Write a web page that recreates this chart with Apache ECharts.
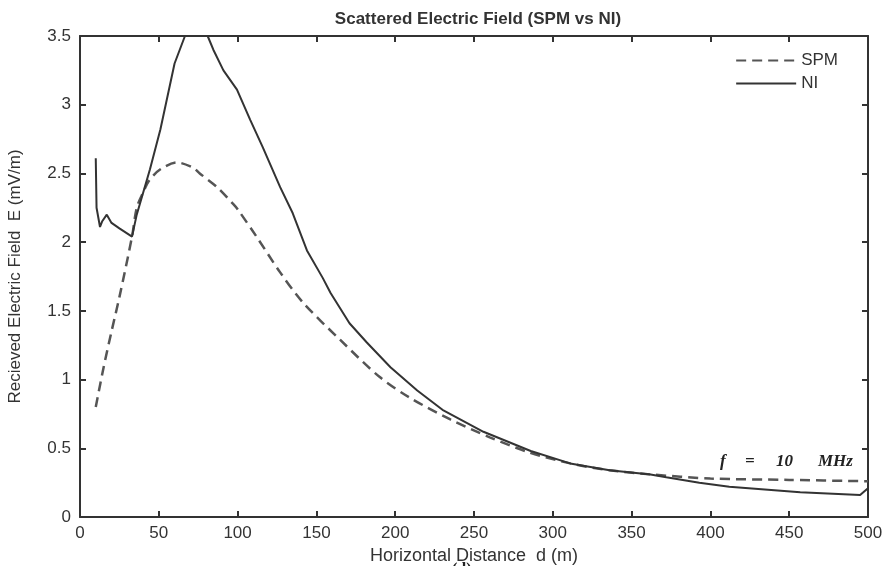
<!DOCTYPE html>
<html>
<head>
<meta charset="utf-8">
<script src="https://cdn.jsdelivr.net/npm/echarts@6/dist/echarts.min.js"></script>
<style>
  html, body { margin: 0; padding: 0; background: #fff; }
  #chart { width: 889px; height: 566px; }
</style>
</head>
<body>
<div id="chart"></div>
<script>
// distance (m) and field (mV/m)
const spmDist = [10, 15, 20, 25, 33, 36, 40, 44, 51, 61.5, 72, 76, 87, 97, 100, 112, 127, 141.5, 165, 190, 209, 235, 260, 285, 311, 336, 362, 400, 450, 500]
const spmField = [0.80, 1.09, 1.35, 1.60, 2.04, 2.25, 2.36, 2.45, 2.53, 2.58, 2.54, 2.50, 2.40, 2.28, 2.24, 2.04, 1.78, 1.56, 1.29, 1.02, 0.87, 0.71, 0.58, 0.47, 0.39, 0.34, 0.31, 0.28, 0.27, 0.26]

const niDist = [10, 10.5, 12.7, 14, 17, 20, 25, 33, 36, 44.4, 51, 60, 66.6, 75, 81, 84.6, 91, 99.6, 108, 116, 127, 135, 144, 154, 159, 171, 182, 197, 214, 230, 256, 286, 311, 336, 362, 372, 393, 412, 457, 495, 500]
const niField = [2.61, 2.25, 2.11, 2.15, 2.20, 2.14, 2.10, 2.04, 2.20, 2.53, 2.82, 3.30, 3.5, 3.5, 3.5, 3.40, 3.25, 3.11, 2.89, 2.69, 2.40, 2.21, 1.94, 1.74, 1.63, 1.41, 1.27, 1.09, 0.92, 0.78, 0.62, 0.48, 0.39, 0.34, 0.31, 0.29, 0.25, 0.22, 0.18, 0.16, 0.21]

const xTicks = [0, 50, 100, 150, 200, 250, 300, 350, 400, 450, 500]
const yTicks = [0, 0.5, 1, 1.5, 2, 2.5, 3, 3.5]

const pairs = (xs, ys) => xs.map((x, i) => [x, ys[i]])

const axisColor = '#333'
const sans = 'Liberation Sans, Arial, sans-serif'
const labelFont = { color: '#333', fontSize: 17, fontFamily: sans }
const noteFont = 'italic bold 17px "Liberation Serif", "DejaVu Serif", serif'

const myChart = echarts.init(document.getElementById('chart'))

let option = {
  backgroundColor: '#fff',
  animation: false,
  title: {
    text: 'Scattered Electric Field (SPM vs NI)',
    left: 473,
    textAlign: 'center',
    top: 6,
    textStyle: { color: '#333', fontSize: 17, fontWeight: 'bold', fontFamily: sans },
  },
  legend: {
    orient: 'vertical',
    right: 46,
    top: 47,
    itemWidth: 60,
    itemHeight: 12,
    itemGap: 6,
    itemStyle: { opacity: 0 },
    textStyle: { color: '#333', fontSize: 17, fontFamily: sans },
    data: ['SPM', 'NI'],
  },
  grid: { left: 80, right: 21, top: 36, bottom: 49, outerBoundsMode: 'none' },
  xAxis: [
    {
      type: 'value',
      min: xTicks[0],
      max: xTicks[xTicks.length - 1],
      interval: 50,
      name: 'Horizontal Distance  d (m)',
      nameLocation: 'middle',
      nameGap: 20,
      nameTextStyle: { color: '#333', fontSize: 18, fontFamily: sans },
      axisLine: { onZero: false, lineStyle: { color: axisColor, width: 2 } },
      axisTick: { inside: true, length: 6, lineStyle: { color: axisColor, width: 2 } },
      axisLabel: Object.assign({ margin: 8 }, labelFont),
      splitLine: { show: false },
    },
    {
      type: 'value',
      position: 'top',
      min: xTicks[0],
      max: xTicks[xTicks.length - 1],
      interval: 50,
      axisLine: { onZero: false, lineStyle: { color: axisColor, width: 2 } },
      axisTick: { inside: true, length: 6, lineStyle: { color: axisColor, width: 2 } },
      axisLabel: { show: false },
      splitLine: { show: false },
    },
  ],
  yAxis: [
    {
      type: 'value',
      min: yTicks[0],
      max: yTicks[yTicks.length - 1],
      interval: 0.5,
      name: 'Recieved Electric Field  E (mV/m)',
      nameLocation: 'middle',
      nameGap: 56,
      nameTextStyle: { color: '#333', fontSize: 17, fontFamily: sans },
      axisLine: { show: true, onZero: false, lineStyle: { color: axisColor, width: 2 } },
      axisTick: { show: true, inside: true, length: 6, lineStyle: { color: axisColor, width: 2 } },
      axisLabel: Object.assign({ margin: 9 }, labelFont),
      splitLine: { show: false },
    },
    {
      type: 'value',
      position: 'right',
      min: yTicks[0],
      max: yTicks[yTicks.length - 1],
      interval: 0.5,
      axisLine: { show: true, onZero: false, lineStyle: { color: axisColor, width: 2 } },
      axisTick: { show: true, inside: true, length: 6, lineStyle: { color: axisColor, width: 2 } },
      axisLabel: { show: false },
      splitLine: { show: false },
    },
  ],
  graphic: [
    { type: 'text', left: 720, top: 453, style: { text: 'f', fill: '#222', font: noteFont } },
    { type: 'text', left: 745, top: 453, style: { text: '=', fill: '#222', font: noteFont } },
    { type: 'text', left: 776, top: 453, style: { text: '10', fill: '#222', font: noteFont } },
    { type: 'text', left: 818, top: 453, style: { text: 'MHz', fill: '#222', font: noteFont } },
    { type: 'text', left: 452, top: 562, style: { text: '(d)', fill: '#222', font: 'bold 16px "Liberation Serif", serif' } },
  ],
  series: [
    {
      name: 'SPM',
      type: 'line',
      data: pairs(spmDist, spmField),
      smooth: 0.3,
      symbol: 'none',
      color: '#555',
      lineStyle: { color: '#555', width: 2.5, type: [10, 6] },
    },
    {
      name: 'NI',
      type: 'line',
      data: pairs(niDist, niField),
      symbol: 'none',
      color: '#333',
      lineStyle: { color: '#333', width: 2 },
    },
  ],
}

myChart.setOption(option)
</script>
</body>
</html>
